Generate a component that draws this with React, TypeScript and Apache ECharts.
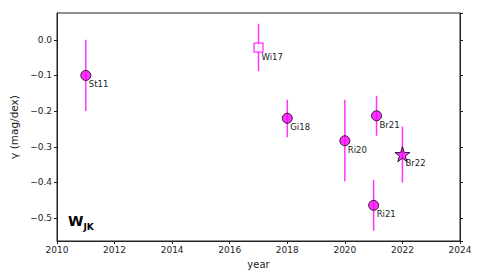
import React, { useEffect, useRef } from "react";
import * as echarts from "echarts";

const names = ["St11", "Wi17", "Gi18", "Ri20", "Br21", "Ri21", "Br22"];
const years = [2011, 2017, 2018, 2020, 2021.1, 2021, 2022];
const gammas = [-0.1, -0.022, -0.22, -0.283, -0.213, -0.464, -0.321];
const errHigh = [0.0, 0.045, -0.168, -0.168, -0.157, -0.393, -0.243];
const errLow = [-0.2, -0.088, -0.273, -0.397, -0.269, -0.535, -0.4];
const symbols = ["circle", "rect", "circle", "circle", "circle", "circle", "path://M50 0 L61.8 35.4 L99 35.4 L69 57.3 L80.3 92.7 L50 70.8 L19.7 92.7 L31 57.3 L1 35.4 L38.2 35.4 Z"];
const xTicks = [2010, 2024];
const yRange = [-0.564, 0.075];

const FONT = "DejaVu Sans";
const MAG = "#ff00ff";

export default function App() {
  const ref = useRef<HTMLDivElement>(null);
  useEffect(() => {
    const chart = echarts.init(ref.current!, null, { renderer: "svg" });
    const errData = names.map((n, i) => [years[i], errLow[i], errHigh[i], gammas[i], n]);
    const pts = names.map((n, i) => {
      const isSq = i === 1;
      const isStar = i === 6;
      return {
        value: [years[i], gammas[i]],
        symbol: symbols[i],
        symbolSize: isStar ? 15 : isSq ? 9 : 10,
        itemStyle: {
          color: isSq ? "#ffffff" : MAG,
          borderColor: isSq ? MAG : "#000000",
          borderWidth: isSq ? 1.3 : 1,
        },
      };
    });
    chart.setOption({
      animation: false,
      grid: { left: 57, right: 20, top: 13, bottom: 33, show: true, borderColor: "#222", borderWidth: 1, backgroundColor: "transparent" },
      xAxis: {
        type: "value",
        min: xTicks[0],
        max: xTicks[1],
        interval: 2,
        name: "year",
        nameLocation: "middle",
        nameGap: 18,
        nameTextStyle: { fontFamily: FONT, fontSize: 10, color: "#222" },
        axisLine: { show: true, onZero: false, lineStyle: { color: "#222" } },
        axisTick: { show: true, length: 3, lineStyle: { color: "#222" } },
        axisLabel: { fontFamily: FONT, fontSize: 9, color: "#222", margin: 4, formatter: (v: number) => String(Math.round(v)) },
        splitLine: { show: false },
      },
      yAxis: [
        {
          type: "value",
          min: yRange[0],
          max: yRange[1],
          splitNumber: 6,
          minInterval: 0.1,
          maxInterval: 0.1,
          name: "γ (mag/dex)",
          nameLocation: "middle",
          nameGap: 34,
          nameTextStyle: { fontFamily: FONT, fontSize: 10.5, color: "#222" },
          axisLine: { show: true, onZero: false, lineStyle: { color: "#222" } },
          axisTick: { show: true, length: 3, lineStyle: { color: "#222" } },
          axisLabel: {
            fontFamily: FONT,
            fontSize: 9,
            color: "#222",
            margin: 5,
            showMinLabel: false,
            showMaxLabel: false,
            formatter: (v: number) => {
              const r = Math.round(v * 10) / 10;
              if (Math.abs(v - r) > 1e-6) return "";
              return r === 0 ? "0.0" : "\u2212" + Math.abs(r).toFixed(1);
            },
          },
          splitLine: { show: false },
        },
        {
          type: "value",
          position: "right",
          min: yRange[0],
          max: yRange[1],
          splitNumber: 6,
          minInterval: 0.1,
          maxInterval: 0.1,
          axisLine: { show: true, onZero: false, lineStyle: { color: "#222" } },
          axisTick: { show: true, length: 3, lineStyle: { color: "#222" } },
          axisLabel: { show: false },
          splitLine: { show: false },
        },
      ],
      series: [
        {
          type: "custom",
          data: errData,
          z: 1,
          renderItem: (params: any, api: any) => {
            const x = api.value(0);
            const p1 = api.coord([x, api.value(1)]);
            const p2 = api.coord([x, api.value(2)]);
            const pc = api.coord([x, api.value(3)]);
            return {
              type: "group",
              children: [
                {
                  type: "line",
                  shape: { x1: p1[0], y1: p1[1], x2: p2[0], y2: p2[1] },
                  style: { stroke: "#ff33ff", lineWidth: 1.5 },
                },
                {
                  type: "text",
                  x: pc[0] + 3,
                  y: pc[1] + 4.5,
                  z2: 10,
                  style: {
                    text: errData[params.dataIndex][4],
                    fontFamily: FONT,
                    fontSize: 8.5,
                    fill: "#222",
                    textAlign: "left",
                    textVerticalAlign: "top",
                  },
                },
              ],
            };
          },
        },
        {
          type: "scatter",
          data: pts,
          z: 3,
        },
      ],
      graphic: [
        {
          type: "text",
          left: 68,
          top: 214,
          style: {
            text: "{w|W}{s|JK}",
            rich: {
              w: { fontFamily: FONT, fontSize: 14, fontWeight: "bold", fill: "#000", verticalAlign: "bottom" },
              s: { fontFamily: FONT, fontSize: 9, fontWeight: "bold", fill: "#000", verticalAlign: "bottom", padding: [0, 0, -3, 0] },
            },
          },
        },
      ],
    });
    return () => chart.dispose();
  }, []);
  return <div ref={ref} style={{ width: 480, height: 274, position: "absolute", left: 0, top: 0 }} />;
}
